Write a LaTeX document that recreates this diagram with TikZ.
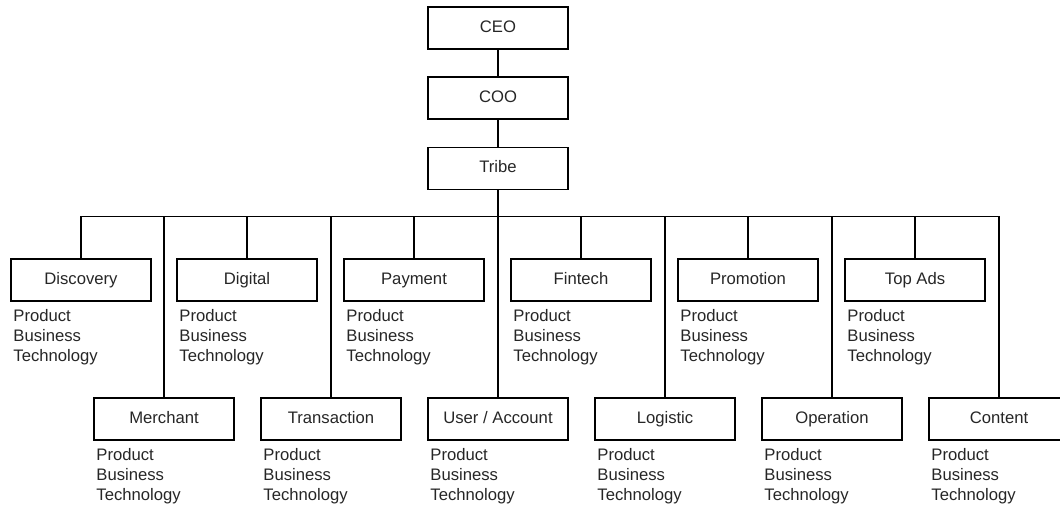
\documentclass[tikz,border=0pt]{standalone}
\usepackage{fontspec}
\setmainfont{Liberation Sans}

\tikzset{
  unitbox/.style={draw, line width=0.8pt, minimum width=105pt, minimum height=31.5pt, inner sep=0pt, text height=9pt, text depth=2.6pt, text=black!85, font=\fontsize{12.5}{15}\selectfont},
  rolelist/.style={anchor=north west, align=left, inner sep=0pt, text=black!85, font=\fontsize{12.5}{15}\selectfont},
  link/.style={line width=0.8pt}
}
\newcommand{\rolestext}{Product\\Business\\Technology}

\begin{document}
\begin{tikzpicture}[x=0.75pt,y=0.75pt,yscale=-1,xscale=1]
        \useasboundingbox (0,0) rectangle (1060,506);

        % Top of the chart
        \node [unitbox] (ceo) at (498,28) {CEO};
        \node [unitbox] (coo) at (498,98) {COO};
        \node [unitbox] (tribe) at (498,168.5) {Tribe};
        \coordinate (bus) at (498,216.7);

        % Upper row
        \node [unitbox] (discovery) at (81,280) {Discovery};
        \node [unitbox] (digital) at (247,280) {Digital};
        \node [unitbox] (payment) at (414,280) {Payment};
        \node [unitbox] (fintech) at (581,280) {Fintech};
        \node [unitbox] (promotion) at (748,280) {Promotion};
        \node [unitbox] (topads) at (915,280) {Top Ads};

        % Lower row
        \node [unitbox] (merchant) at (164,419) {Merchant};
        \node [unitbox] (transaction) at (331,419) {Transaction};
        \node [unitbox] (user) at (498,419) {User / Account};
        \node [unitbox] (logistic) at (665,419) {Logistic};
        \node [unitbox] (operation) at (832,419) {Operation};
        \node [unitbox] (content) at (999,419) {Content};

        % Role lists
        \node [rolelist] (discovery-r) at ([xshift=2pt,yshift=5.5pt]discovery.south west) {\rolestext};
        \node [rolelist] (digital-r) at ([xshift=2pt,yshift=5.5pt]digital.south west) {\rolestext};
        \node [rolelist] (payment-r) at ([xshift=2pt,yshift=5.5pt]payment.south west) {\rolestext};
        \node [rolelist] (fintech-r) at ([xshift=2pt,yshift=5.5pt]fintech.south west) {\rolestext};
        \node [rolelist] (promotion-r) at ([xshift=2pt,yshift=5.5pt]promotion.south west) {\rolestext};
        \node [rolelist] (topads-r) at ([xshift=2pt,yshift=5.5pt]topads.south west) {\rolestext};
        \node [rolelist] (merchant-r) at ([xshift=2pt,yshift=5.5pt]merchant.south west) {\rolestext};
        \node [rolelist] (transaction-r) at ([xshift=2pt,yshift=5.5pt]transaction.south west) {\rolestext};
        \node [rolelist] (user-r) at ([xshift=2pt,yshift=5.5pt]user.south west) {\rolestext};
        \node [rolelist] (logistic-r) at ([xshift=2pt,yshift=5.5pt]logistic.south west) {\rolestext};
        \node [rolelist] (operation-r) at ([xshift=2pt,yshift=5.5pt]operation.south west) {\rolestext};
        \node [rolelist] (content-r) at ([xshift=2pt,yshift=5.5pt]content.south west) {\rolestext};

        % Connectors
        \draw [link] (ceo) -- (coo);
        \draw [link] (coo) -- (tribe);
        \draw [link] (tribe) -- (user);
        \draw [link] (discovery.north) -- (discovery.north |- bus) -- (content.north |- bus) -- (content.north);
        \draw [link] (digital.north) -- (digital.north |- bus);
        \draw [link] (payment.north) -- (payment.north |- bus);
        \draw [link] (fintech.north) -- (fintech.north |- bus);
        \draw [link] (promotion.north) -- (promotion.north |- bus);
        \draw [link] (topads.north) -- (topads.north |- bus);
        \draw [link] (merchant.north) -- (merchant.north |- bus);
        \draw [link] (transaction.north) -- (transaction.north |- bus);
        \draw [link] (logistic.north) -- (logistic.north |- bus);
        \draw [link] (operation.north) -- (operation.north |- bus);

\end{tikzpicture}
\end{document}
